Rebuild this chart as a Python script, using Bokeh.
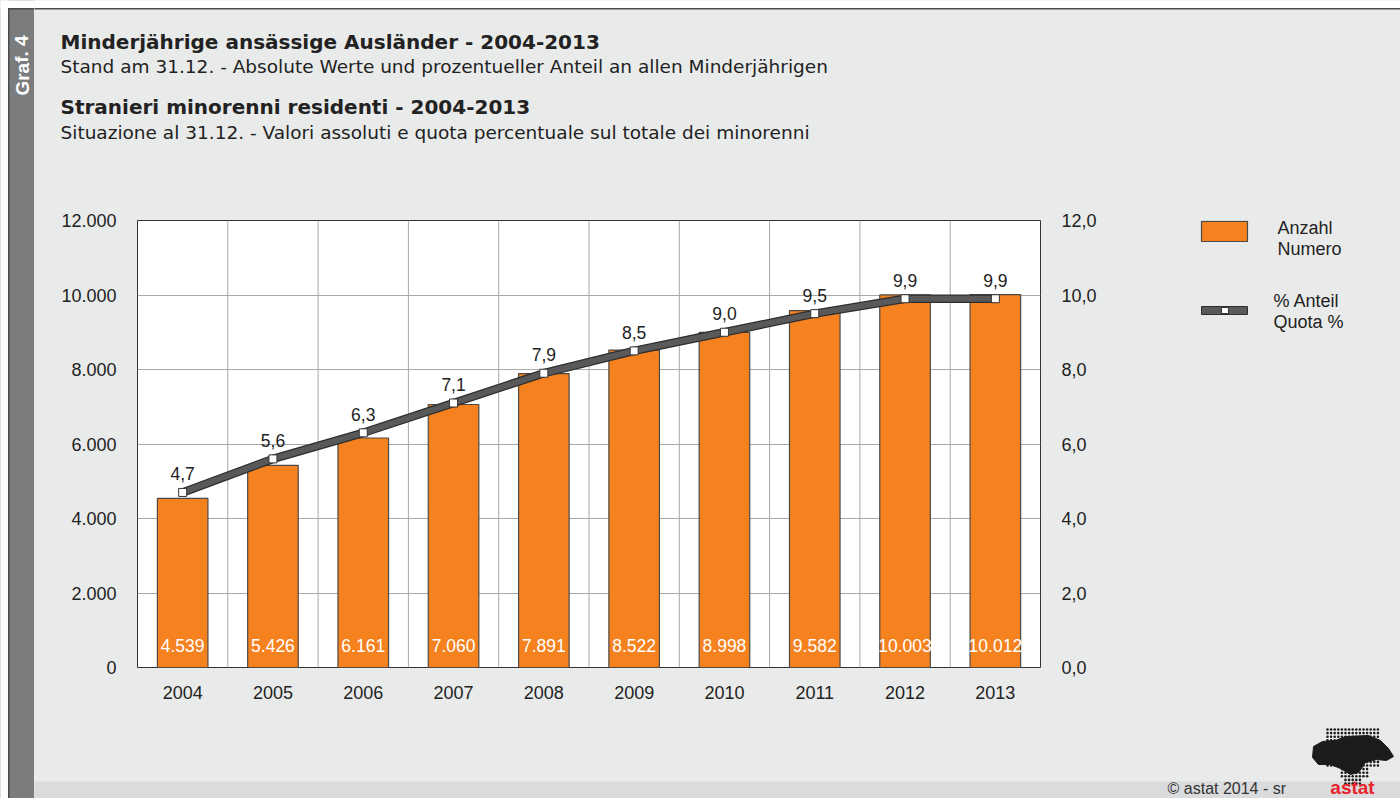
from bokeh.plotting import figure
from bokeh.layouts import row, column
from bokeh.models import FactorRange, Range1d, LinearAxis, FixedTicker, Span, ColumnDataSource
from bokeh.embed import file_html
from bokeh.resources import INLINE
from bokeh.core.properties import value
import numpy as np

# ---- data ----
years = ["2004", "2005", "2006", "2007", "2008", "2009", "2010", "2011", "2012", "2013"]
anzahl = [4539, 5426, 6161, 7060, 7891, 8522, 8998, 9582, 10003, 10012]
anteil = [4.7, 5.6, 6.3, 7.1, 7.9, 8.5, 9.0, 9.5, 9.9, 9.9]
left_ticks = [0, 2000, 4000, 6000, 8000, 10000, 12000]
right_ticks = [0, 2, 4, 6, 8, 10, 12]

title_de = "Minderjährige ansässige Ausländer - 2004-2013"
sub_de = "Stand am 31.12. - Absolute Werte und prozentueller Anteil an allen Minderjährigen"
title_it = "Stranieri minorenni residenti - 2004-2013"
sub_it = "Situazione al 31.12. - Valori assoluti e quota percentuale sul totale dei minorenni"
legend_bar = ["Anzahl", "Numero"]
legend_line = ["% Anteil", "Quota %"]
graf = "Graf. 4"
copyright_txt = "©  astat 2014 - sr"

FONT = "Liberation Sans"
TFONT = "DejaVu Sans"
TXT = "#222222"
BG = "#e9ebea"
ORANGE = "#f5821f"
SIDEBAR = "#7b7c7e"


def blank(x0, x1, y0, y1, bg=BG, top=0, bottom=0, left=0, right=0, fy0=None, fy1=None,
          fx0=None, fx1=None, border=None):
    """Plain canvas whose data units are the page pixels (y downwards)."""
    fy0 = y0 if fy0 is None else fy0
    fy1 = y1 if fy1 is None else fy1
    fx0 = x0 if fx0 is None else fx0
    fx1 = x1 if fx1 is None else fx1
    f = figure(width=x1 - x0, height=y1 - y0, x_range=Range1d(fx0, fx1), y_range=Range1d(fy1, fy0),
               x_axis_location=None, y_axis_location=None, output_backend="svg",
               toolbar_location=None, min_border=0, min_border_top=top, min_border_bottom=bottom,
               min_border_left=left, min_border_right=right,
               background_fill_color=bg, border_fill_color=border,
               outline_line_color=bg, outline_line_width=2)
    f.grid.visible = False
    return f


def txt(f, x, y, s, size, bold=False, color=TXT, align="left", angle=0.0, font=FONT):
    f.text(x=[x], y=[y], text=[s], text_font=value(font), text_font_size=size,
           text_font_style="bold" if bold else "normal", text_color=color,
           text_align=align, text_baseline="middle", angle=angle)


# ---- sidebar ----
side = blank(0, 34, 0, 798, bg=SIDEBAR)
side.outline_line_color = None
side.quad(left=-1, right=8, top=-1, bottom=799, fill_color="white", line_color=None)
side.quad(left=-1, right=35, top=-1, bottom=8, fill_color="white", line_color=None)
side.quad(left=7.5, right=9, top=7.5, bottom=799, fill_color="#4a4a4a", line_color=None)
side.quad(left=8, right=35, top=7.5, bottom=9, fill_color="#4a4a4a", line_color=None)
txt(side, 21.5, 65, graf, "19px", bold=True, color="white", align="center", angle=1.5708)

# ---- header ----
head = blank(34, 1400, 0, 190)
head.outline_line_color = None
head.quad(left=33, right=1401, top=-1, bottom=8, fill_color="white", line_color=None)
head.quad(left=33, right=1401, top=7.5, bottom=9, fill_color="#4a4a4a", line_color=None)
txt(head, 60, 41, title_de, "20px", bold=True, font=TFONT)
txt(head, 60, 66, sub_de, "18.5px", font=TFONT)
txt(head, 60, 106, title_it, "20px", bold=True, font=TFONT)
txt(head, 60, 132, sub_it, "18.5px", font=TFONT)

# ---- main chart ----
p = figure(width=1136, height=530, x_range=FactorRange(*years, range_padding=0),
           y_range=Range1d(0, 12000), output_backend="svg", toolbar_location=None,
           min_border_left=103, min_border_right=130, min_border_top=30, min_border_bottom=53,
           background_fill_color="white", border_fill_color=BG)
p.extra_y_ranges = {"pct": Range1d(0, 12)}

p.xgrid.grid_line_color = None
p.ygrid.ticker = FixedTicker(ticks=left_ticks)
p.ygrid.grid_line_color = "#a8a8a8"
for b in range(1, len(years)):
    p.add_layout(Span(location=b, dimension="height", line_color="#a8a8a8", line_width=1,
                      level="underlay"))
p.outline_line_color = "#333333"


def style_axis(ax, standoff):
    ax.axis_line_color = None
    ax.major_tick_line_color = None
    ax.minor_tick_line_color = None
    ax.major_label_text_font = FONT
    ax.major_label_text_font_size = "18px"
    ax.major_label_text_color = TXT
    ax.major_label_standoff = standoff


yl = p.yaxis[0]
yl.ticker = FixedTicker(ticks=left_ticks)
yl.major_label_overrides = {t: f"{t:,}".replace(",", ".") for t in left_ticks}
style_axis(yl, 15)

yr = LinearAxis(y_range_name="pct", ticker=FixedTicker(ticks=right_ticks))
yr.major_label_overrides = {t: f"{t:.1f}".replace(".", ",") for t in right_ticks}
style_axis(yr, 15)
p.add_layout(yr, "right")

style_axis(p.xaxis[0], 12)

src = ColumnDataSource(dict(
    x=years, top=anzahl, pct=anteil,
    lab=[f"{v:,}".replace(",", ".") for v in anzahl],
    plab=[f"{v:.1f}".replace(".", ",") for v in anteil],
    zero=[0] * len(years),
))
p.vbar(x="x", top="top", width=0.56, source=src, fill_color=ORANGE,
       line_color="#4a4a4a", line_width=1.2)
p.text(x="x", y="zero", text="lab", source=src, text_align="center", text_baseline="middle",
       y_offset=-22, text_color="white", text_font=value(FONT), text_font_size="17.5px")

p.line(x="x", y="pct", source=src, y_range_name="pct", line_color="#2e2e2e", line_width=8.5)
p.line(x="x", y="pct", source=src, y_range_name="pct", line_color="#595959", line_width=6)
p.scatter(x="x", y="pct", source=src, y_range_name="pct", marker="square", size=8,
          fill_color="white", line_color="#333333", line_width=1)
p.text(x="x", y="pct", text="plab", source=src, y_range_name="pct", text_align="center",
       text_baseline="bottom", y_offset=-12, text_color=TXT, text_font=value(FONT),
       text_font_size="17.5px")

# ---- legend (frame aligned with the chart frame: page y 220..667) ----
leg = blank(1170, 1400, 190, 720, top=30, bottom=53, left=3, right=3,
            fy0=220, fy1=667, fx0=1173, fx1=1397, border=BG)
leg.quad(left=1201, right=1247, top=220.8, bottom=241, fill_color=ORANGE,
         line_color="#4a4a4a", line_width=1.2)
leg.quad(left=1201, right=1247, top=306, bottom=314, fill_color="#595959",
         line_color="#2e2e2e", line_width=1)
leg.quad(left=1221, right=1228, top=307, bottom=313, fill_color="white",
         line_color="#333333", line_width=1)
txt(leg, 1277, 227, legend_bar[0], "18px")
txt(leg, 1277, 248, legend_bar[1], "18px")
txt(leg, 1273, 300, legend_line[0], "18px")
txt(leg, 1273, 321, legend_line[1], "18px")

# ---- footer ----
foot = blank(34, 1400, 720, 798)
foot.outline_line_color = None
foot.quad(left=33, right=1401, top=781, bottom=799, fill_color="#dadbdc", line_color=None)
logo_x = [1313, 1322, 1335, 1345, 1368, 1380, 1388, 1393, 1386, 1376, 1365, 1358, 1350, 1340, 1330, 1318, 1312]
logo_y = [746, 741, 740, 736, 735, 740, 748, 756, 760, 759, 762, 772, 774, 768, 764, 764, 757]
foot.patch(x=logo_x, y=logo_y, fill_color="#1c1c1c", line_color="#1c1c1c")
gx, gy = np.meshgrid(np.arange(1327, 1380, 3.6), np.arange(729, 786, 3.6))
gx, gy = gx.ravel(), gy.ravel()
keep = (gy < 768) | ((gx > 1338) & (gx < 1368) & (gy < 776)) | ((gx > 1343) & (gx < 1360))
foot.scatter(x=gx[keep], y=gy[keep], size=2.6, marker="circle", fill_color="#1c1c1c", line_color=None)
txt(foot, 1290, 788, copyright_txt, "16px", color="#333333", align="right")
txt(foot, 1352, 787, "astat", "19px", bold=True, color="#e8232a", align="center")

bgstyle = {"background-color": BG}
middle = row(p, leg, styles=bgstyle)
right_part = column(head, middle, foot, styles=bgstyle)
layout = row(side, right_part)
open("out.html", "w").write(file_html(layout, INLINE))
